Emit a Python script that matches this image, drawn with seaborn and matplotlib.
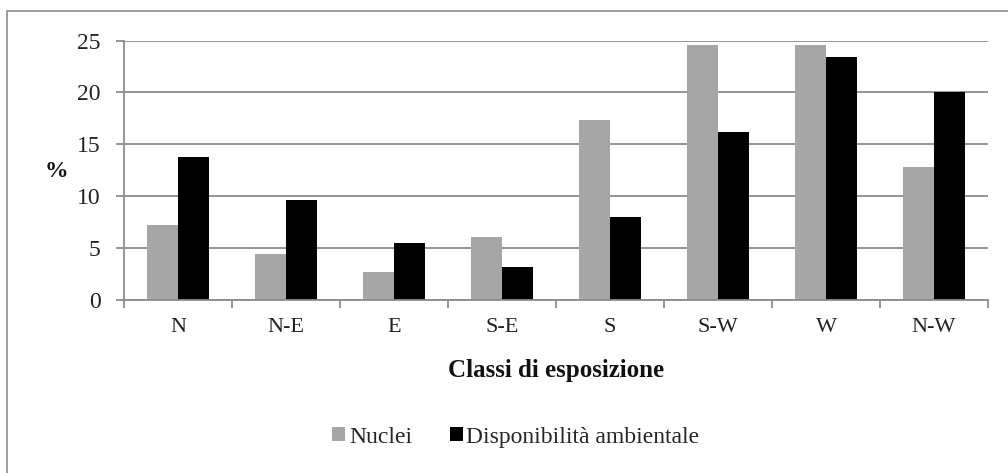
import matplotlib
matplotlib.use("Agg")
import matplotlib.pyplot as plt
import seaborn as sns
import pandas as pd
from matplotlib.patches import Rectangle, Patch

categories = ["N", "N-E", "E", "S-E", "S", "S-W", "W", "N-W"]
nuclei = [7.2, 4.4, 2.7, 6.1, 17.3, 24.6, 24.6, 12.8]
disponibilita = [13.8, 9.6, 5.5, 3.2, 8.0, 16.2, 23.4, 20.0]
series_names = ["Nuclei", "Disponibilità ambientale"]
y_ticks = [0, 5, 10, 15, 20, 25]

df = pd.DataFrame({
    "cat": categories * 2,
    "val": nuclei + disponibilita,
    "serie": [series_names[0]] * len(categories) + [series_names[1]] * len(categories),
})

sns.set_theme(style="white")
plt.rcParams["font.family"] = ["Liberation Serif", "DejaVu Serif"]

fig = plt.figure(figsize=(10.08, 4.73), dpi=100)
ax = fig.add_axes([124 / 1008, 1 - 300 / 473, (988 - 124) / 1008, (300 - 40.5) / 473])

palette = {series_names[0]: "#A6A6A6", series_names[1]: "#000000"}
sns.barplot(data=df, x="cat", y="val", hue="serie", order=categories,
            hue_order=series_names, palette=palette, width=0.574,
            saturation=1, legend=False, ax=ax, linewidth=0)

ax.set_ylim(0, 25)
ax.set_xlim(-0.5, len(categories) - 0.5)
ax.set_yticks(y_ticks)
ax.set_yticklabels([str(t) for t in y_ticks], fontsize=17, color="#222222")
ax.yaxis.grid(True, color="#8C8C8C", linewidth=1.3)
ax.set_axisbelow(True)

for s in ["top", "right"]:
    ax.spines[s].set_visible(False)
for s in ["left", "bottom"]:
    ax.spines[s].set_color("#8C8C8C")
    ax.spines[s].set_linewidth(1.3)

# x ticks: category separators
ax.set_xticks([i + 0.5 for i in range(-1, len(categories))], minor=False)
ax.set_xticklabels([])
ax.set_xticks(range(len(categories)), minor=True)
ax.set_xticklabels(categories, minor=True, fontsize=16, color="#222222")
ax.tick_params(axis="x", which="major", direction="out", length=6, width=1.3,
               color="#8C8C8C", bottom=True)
ax.tick_params(axis="x", which="minor", length=0, pad=13, bottom=True)
ax.tick_params(axis="y", direction="out", length=6, width=1.3, color="#8C8C8C",
               left=True, pad=11)

ax.set_xlabel("Classi di esposizione", fontsize=18, fontweight="bold",
              color="#111111")
ax.xaxis.set_label_coords(0.5, -(370 - 300) / 259.5)
ax.xaxis.label.set_va("center")
ax.set_ylabel("%", fontsize=17, fontweight="bold", rotation=0, color="#111111",
              va="center", ha="center")
ax.yaxis.set_label_coords(-(124 - 56) / 864, (300 - 171) / 259.5)

handles = [Patch(facecolor=palette[n], edgecolor="none") for n in series_names]
fig.legend(handles, series_names, loc="center", bbox_to_anchor=(516 / 1008, 1 - 437 / 473),
           ncol=2, frameon=False, fontsize=17, handlelength=0.55, handleheight=0.55,
           handletextpad=0.15, columnspacing=1.6)

fig.patches.append(Rectangle((7 / 1008, -0.1), 1.2, 1.1 - 11 / 473,
                             transform=fig.transFigure, fill=False,
                             edgecolor="#8C8C8C", linewidth=1.2))

fig.savefig("out.png", dpi=100)
